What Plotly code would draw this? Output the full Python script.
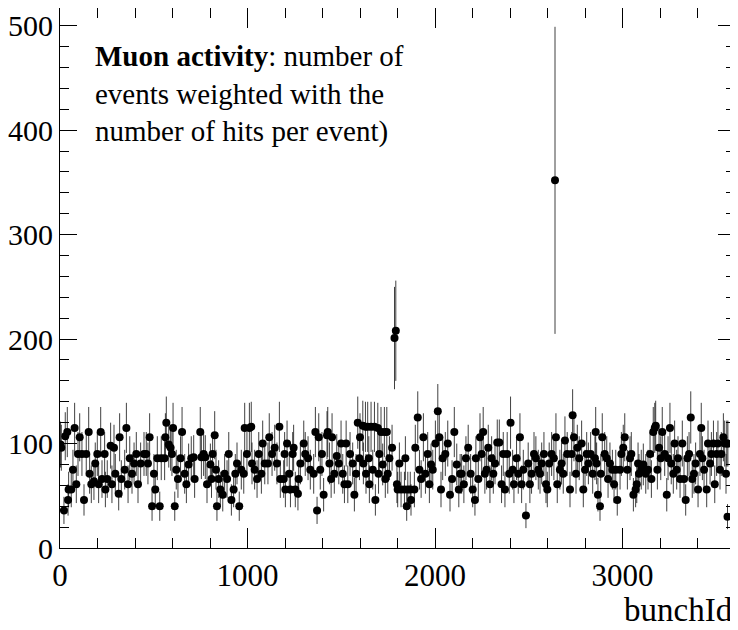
import plotly.graph_objects as go

# ---- data (bunchId, weighted counts, errors) ----
bunch_ids = [
    3, 7, 21, 28, 39, 43, 46, 60, 69, 78,
    87, 96, 105, 117, 128, 140, 153, 158, 167, 181,
    188, 199, 206, 217, 224, 238, 242, 252, 270, 277,
    288, 295, 313, 318, 327, 345, 354, 363, 372, 384,
    395, 407, 416, 430, 448, 460, 469, 478, 491, 501,
    508, 519, 532, 540, 558, 562, 567, 580, 590, 597,
    603, 612, 620, 629, 643, 651, 665, 674, 686, 700,
    713, 718, 748, 754, 766, 775, 784, 802, 808, 814,
    825, 832, 837, 846, 855, 868, 878, 891, 900, 914,
    926, 935, 944, 956, 967, 980, 985, 997, 1010, 1020,
    1024, 1038, 1051, 1060, 1074, 1081, 1092, 1109, 1116, 1131,
    1145, 1157, 1170, 1175, 1193, 1198, 1202, 1211, 1223, 1229,
    1241, 1246, 1255, 1269, 1273, 1282, 1300, 1308, 1323, 1335,
    1353, 1362, 1371, 1380, 1388, 1397, 1406, 1424,
    1428, 1437, 1446, 1451, 1463, 1476, 1487, 1499, 1508, 1517,
    1526, 1535, 1547, 1561, 1570, 1579, 1588, 1597, 1600, 1615,
    1618, 1629, 1632, 1641, 1647, 1650, 1659, 1668, 1677, 1682,
    1695, 1699, 1703, 1712, 1721, 1730, 1735, 1743, 1748, 1757,
    1771, 1784, 1791, 1797, 1801, 1810, 1819, 1837, 1842, 1849,
    1855, 1868, 1872, 1890, 1895, 1908, 1917, 1926, 1938, 1949,
    1961, 1970, 1979, 1988, 2002, 2015, 2023, 2032, 2041, 2055,
    2068, 2080, 2091, 2103, 2116, 2127,
    2134, 2142, 2154, 2165, 2177, 2190, 2201, 2213, 2218, 2231,
    2240, 2249, 2257, 2266, 2275, 2284, 2293, 2302, 2311, 2320,
    2332, 2343, 2355, 2364, 2373, 2385, 2396, 2403, 2414, 2421,
    2435, 2444, 2453, 2462, 2471, 2485, 2497, 2506, 2515, 2528,
    2538, 2551, 2560, 2569, 2581, 2592, 2599, 2609, 2622, 2634,
    2640, 2645, 2652, 2666, 2675, 2684, 2693, 2705, 2720, 2729,
    2734, 2741, 2752, 2759, 2769, 2782, 2791, 2800, 2809, 2818,
    2830, 2841,
    2853, 2857, 2862, 2869, 2880, 2884, 2892, 2905, 2916, 2923,
    2933, 2946, 2955, 2964, 2972, 2987, 2994, 3004, 3012, 3026,
    3040, 3047, 3058, 3070, 3076, 3083, 3088, 3100, 3111, 3124,
    3136, 3147, 3154, 3164, 3172, 3177, 3186, 3195, 3204, 3212,
    3225, 3236, 3243, 3253, 3260, 3271, 3278, 3289, 3296, 3307,
    3319, 3328, 3337, 3346, 3355, 3364, 3372, 3381, 3390, 3403,
    3413, 3420, 3426, 3435, 3449, 3456, 3467, 3474, 3485, 3492,
    3502, 3509, 3520, 3527, 3538, 3545, 3552, 3556, 3560, 3562,
]

counts = [
    99, 96, 36, 107, 111, 46, 56, 56, 75, 115,
    61, 90, 106, 90, 46, 90, 111, 71, 61, 64,
    81, 90, 61, 111, 66, 90, 56, 66, 98, 61,
    96, 71, 52, 106, 66, 75, 115, 61, 86, 71,
    81, 90, 61, 81, 90, 90, 81, 106, 40, 71,
    56, 86, 40, 86, 86, 106, 120, 99, 96, 90,
    115, 40, 75, 66, 86, 111, 71, 61, 80, 86,
    87, 66, 111, 87, 90, 87, 61, 80, 66, 90,
    108, 75, 40, 66, 56, 51, 71, 66, 90, 46,
    56, 71, 81, 40, 75, 71, 115, 90, 115, 116,
    81, 75, 66, 90, 71, 100, 81, 81, 106, 90,
    96, 81, 116, 66, 66, 90, 56, 100, 71, 56,
    90, 96, 56, 52, 66, 81, 100, 90, 86, 75,
    71, 111, 36, 106, 75, 90, 51, 108,
    111, 81, 66, 106, 71, 88, 81, 100, 71, 61,
    100, 61, 90, 81, 51, 71, 120, 86, 106, 117,
    81, 116, 71, 116, 86, 61, 116, 75, 116, 46,
    115, 71, 90, 111, 80, 111, 66, 111, 71, 86,
    96, 201, 208, 61, 56, 81, 56, 56, 86, 40,
    56, 56, 46, 56, 96, 125, 75, 66, 106, 71,
    90, 61, 80, 75, 100, 131, 106, 56, 86, 90,
    100, 51, 66, 111, 80, 56,
    71, 71, 61, 86, 96, 71, 56, 46, 86, 66,
    106, 90, 111, 71, 75, 96, 61, 86, 71, 81,
    101, 101, 61, 90, 56, 90, 71, 120, 75, 61,
    86, 71, 106, 61, 75, 31, 81, 61, 71, 90,
    86, 75, 71, 81, 90, 61, 56, 81, 90, 86,
    352, 106, 61, 75, 81, 71, 103, 90, 56, 90,
    127, 106, 71, 96, 86, 100, 56, 75, 90, 81,
    90, 71,
    86, 111, 81, 51, 40, 71, 106, 90, 86, 66,
    81, 75, 61, 75, 46, 75, 90, 96, 106, 75,
    86, 90, 51, 56, 61, 81, 71, 75, 80, 71,
    75, 90, 66, 111, 115, 117, 75, 96, 86, 111,
    90, 51, 86, 115, 81, 71, 100, 75, 86, 66,
    100, 66, 46, 86, 90, 125, 66, 71, 81, 56,
    90, 115, 86, 75, 56, 100, 81, 90, 100, 61,
    90, 100, 75, 90, 106, 100, 71, 100, 30, 100,
]

errors = [
    22, 22, 13, 23, 24, 15, 17, 17, 19, 24,
    18, 21, 23, 21, 15, 21, 24, 19, 18, 18,
    20, 21, 18, 24, 18, 21, 17, 18, 22, 18,
    22, 19, 16, 23, 18, 19, 24, 18, 21, 19,
    20, 21, 18, 20, 21, 21, 20, 23, 14, 19,
    17, 21, 14, 21, 21, 23, 25, 22, 22, 21,
    24, 14, 19, 18, 21, 24, 19, 18, 20, 21,
    21, 18, 24, 21, 21, 21, 18, 20, 18, 21,
    23, 19, 14, 18, 17, 16, 19, 18, 21, 15,
    17, 19, 20, 14, 19, 19, 24, 21, 24, 24,
    20, 19, 18, 21, 19, 22, 20, 20, 23, 21,
    22, 20, 24, 18, 18, 21, 17, 22, 19, 17,
    21, 22, 17, 16, 18, 20, 22, 21, 21, 19,
    19, 24, 13, 23, 19, 21, 16, 23,
    24, 20, 18, 23, 19, 21, 20, 22, 19, 18,
    22, 18, 21, 20, 16, 19, 25, 21, 23, 24,
    20, 24, 19, 24, 21, 18, 24, 19, 24, 15,
    24, 19, 21, 24, 20, 24, 18, 24, 19, 21,
    22, 49, 48, 18, 17, 20, 17, 17, 21, 14,
    17, 17, 15, 17, 22, 25, 19, 18, 23, 19,
    21, 18, 20, 19, 22, 26, 23, 17, 21, 21,
    22, 16, 18, 24, 20, 17,
    19, 19, 18, 21, 22, 19, 17, 15, 21, 18,
    23, 21, 24, 19, 19, 22, 18, 21, 19, 20,
    22, 22, 18, 21, 17, 21, 19, 25, 19, 18,
    21, 19, 23, 18, 19, 12, 20, 18, 19, 21,
    21, 19, 19, 20, 21, 18, 17, 20, 21, 21,
    147, 23, 18, 19, 20, 19, 23, 21, 17, 21,
    25, 23, 19, 22, 21, 22, 17, 19, 21, 20,
    21, 19,
    21, 24, 20, 16, 14, 19, 23, 21, 21, 18,
    20, 19, 18, 19, 15, 19, 21, 22, 23, 19,
    21, 21, 16, 17, 18, 20, 19, 19, 20, 19,
    19, 21, 18, 24, 24, 24, 19, 22, 21, 24,
    21, 16, 21, 24, 20, 19, 22, 19, 21, 18,
    22, 18, 15, 21, 21, 25, 18, 19, 20, 17,
    21, 24, 21, 19, 17, 22, 20, 21, 22, 18,
    21, 22, 19, 21, 23, 22, 19, 22, 12, 22,
]

n = min(len(bunch_ids), len(counts), len(errors))

x_tick_vals = [0, 1000, 2000, 3000]
y_tick_vals = [0, 100, 200, 300, 400, 500]

FONT = "Liberation Serif, Times New Roman, serif"

fig = go.Figure()
fig.add_trace(go.Scatter(
    x=bunch_ids[:n], y=counts[:n],
    mode="markers",
    marker=dict(color="black", size=8, symbol="circle"),
    error_y=dict(type="data", array=errors[:n], visible=True,
                 color="rgba(0,0,0,0.75)", thickness=1, width=0),
    showlegend=False,
    hoverinfo="x+y",
))

axis_common = dict(
    showline=True, linecolor="black", linewidth=1, mirror="ticks",
    ticks="inside", tickcolor="black", tickwidth=1,
    showgrid=False, zeroline=False,
)

fig.update_xaxes(
    range=[0, 3600], tickvals=x_tick_vals, ticklen=20,
    tickfont=dict(family=FONT, size=31, color="black"),
    minor=dict(ticks="inside", dtick=200, ticklen=10, tickcolor="black", showgrid=False),
    **axis_common,
)
fig.update_yaxes(
    range=[0, 517], tickvals=y_tick_vals, ticklen=17,
    tickfont=dict(family=FONT, size=30, color="black"),
    minor=dict(ticks="inside", dtick=20, ticklen=9, tickcolor="black", showgrid=False),
    **axis_common,
)

fig.add_annotation(
    x=0.049, y=0.945, xref="paper", yref="paper",
    xanchor="left", yanchor="top", align="left", showarrow=False,
    text="<b>Muon activity</b>: number of<br>events weighted with the<br>number of hits per event)",
    font=dict(family=FONT, size=29, color="black"),
)
fig.add_annotation(
    x=1.0, y=0, xref="paper", yref="paper",
    xanchor="right", yanchor="top", yshift=-42, showarrow=False,
    text="bunchId",
    font=dict(family=FONT, size=33, color="black"),
)

# the page body adds an 8 px margin, so the figure is sized to fit the window
fig.update_layout(
    width=730, height=622,
    margin=dict(l=52, r=3, t=0, b=82, autoexpand=False),
    paper_bgcolor="white", plot_bgcolor="white",
)

fig.write_html("out.html")
